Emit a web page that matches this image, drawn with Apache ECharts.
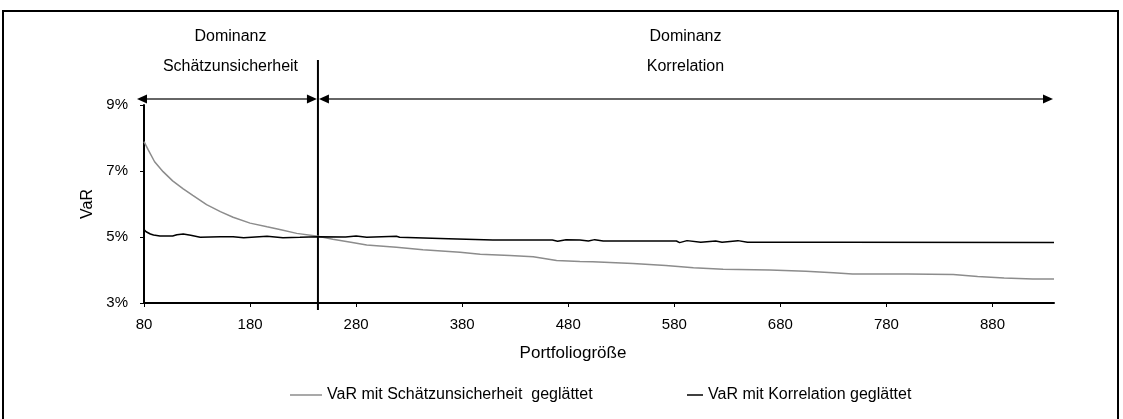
<!DOCTYPE html>
<html>
<head>
<meta charset="utf-8">
<script src="https://cdn.jsdelivr.net/npm/echarts@6/dist/echarts.min.js"></script>
<style>
  html, body { margin: 0; padding: 0; background: #fff; }
  #echart1 { width: 1123px; height: 419px; }
</style>
</head>
<body>
<div id="echart1"></div>
<script>
// Portfoliogröße / VaR in %
var schaetzX = [80, 84, 90, 98, 107, 117, 126, 139, 152, 164, 180, 196, 208, 224, 244, 258, 275, 290, 318, 343, 378, 397, 425, 447, 469, 491, 503, 541, 572, 598, 626, 670, 704, 730, 748, 800, 843, 866, 891, 918, 938]
var schaetzVaR = [7.89, 7.64, 7.28, 6.98, 6.70, 6.46, 6.26, 5.98, 5.77, 5.60, 5.42, 5.31, 5.23, 5.11, 5.02, 4.93, 4.84, 4.76, 4.69, 4.61, 4.54, 4.48, 4.44, 4.40, 4.29, 4.26, 4.25, 4.20, 4.14, 4.07, 4.02, 4.00, 3.96, 3.92, 3.88, 3.88, 3.86, 3.80, 3.76, 3.73, 3.73]
var korrX = [80, 82, 86, 89, 95, 107, 111, 117, 124, 133, 152, 164, 174, 196, 211, 227, 244, 270, 280, 290, 318, 321, 367, 409, 465, 470, 478, 491, 499, 505, 513, 582, 585, 592, 605, 619, 625, 640, 649, 736, 938]
var korrVaR = [5.23, 5.16, 5.09, 5.06, 5.03, 5.03, 5.07, 5.09, 5.05, 4.99, 5.01, 5.01, 4.98, 5.02, 4.98, 4.99, 5.01, 5.00, 5.03, 4.99, 5.02, 4.99, 4.95, 4.91, 4.91, 4.87, 4.92, 4.91, 4.88, 4.92, 4.88, 4.88, 4.83, 4.89, 4.84, 4.88, 4.84, 4.89, 4.84, 4.84, 4.83]
var xTicks = [80, 180, 280, 380, 480, 580, 680, 780, 880]
var yTicks = [3, 5, 7, 9]
var grenze = 244
var nameSchaetz = 'VaR mit Schätzunsicherheit  geglättet'
var nameKorr = 'VaR mit Korrelation geglättet'

var font = 'Liberation Sans, Arial, sans-serif'

function paare(xs, ys) {
  var out = []
  for (var i = 0; i < xs.length; i++) out.push([xs[i], ys[i]])
  return out
}

var myChart = echarts.init(document.getElementById('echart1'))
var option = {
  animation: false,
  textStyle: { fontFamily: font, color: '#000' },
  grid: { left: 144, right: 69, top: 105, bottom: 116 },
  legend: [
    {
      data: [nameSchaetz], left: 285, top: 382, itemWidth: 32, itemHeight: 14, icon: 'path://M0,6.5 L32,6.5 L32,8 L0,8 Z',
      textStyle: { fontFamily: font, fontSize: 16, color: '#000' }
    },
    {
      data: [nameKorr], left: 682, top: 382, itemWidth: 16, itemHeight: 14, icon: 'path://M0,6.5 L16,6.5 L16,8 L0,8 Z',
      textStyle: { fontFamily: font, fontSize: 16, color: '#000' }
    }
  ],
  xAxis: {
    type: 'value', min: 80, max: 938,
    name: 'Portfoliogröße', nameLocation: 'middle', nameGap: 42,
    nameTextStyle: { fontFamily: font, fontSize: 17, color: '#000', padding: [0, 52, 0, 0] },
    axisLine: { onZero: false, lineStyle: { color: '#000', width: 2 } },
    axisTick: { show: true, customValues: xTicks, length: 4, lineStyle: { color: '#000', width: 1 } },
    axisLabel: { customValues: xTicks, margin: 14, fontSize: 15, color: '#000', fontFamily: font },
    splitLine: { show: false }
  },
  yAxis: {
    type: 'value', min: 3, max: 9,
    name: 'VaR', nameLocation: 'middle', nameGap: 40,
    nameTextStyle: { fontFamily: font, fontSize: 16, color: '#000' },
    axisLine: { show: true, onZero: false, lineStyle: { color: '#000', width: 2 } },
    axisTick: { show: true, customValues: yTicks, length: 4, lineStyle: { color: '#000', width: 1 } },
    axisLabel: { customValues: yTicks, margin: 16, fontSize: 15, color: '#000', fontFamily: font, formatter: '{value}%' },
    splitLine: { show: false }
  },
  series: [
    {
      name: nameSchaetz, type: 'line', symbol: 'none',
      data: paare(schaetzX, schaetzVaR),
      lineStyle: { color: '#8c8c8c', width: 1.5 },
      itemStyle: { color: '#8c8c8c' }
    },
    {
      name: nameKorr, type: 'line', symbol: 'none',
      data: paare(korrX, korrVaR),
      lineStyle: { color: '#000', width: 1.5 },
      itemStyle: { color: '#000' }
    }
  ]
}
myChart.setOption(option)

// Pfeile, Trennlinie und Beschriftung oben
function pfeilspitze(tx, ty, dir) {
  return {
    type: 'polygon',
    shape: { points: [[tx, ty], [tx - dir * 10, ty - 4.5], [tx - dir * 10, ty + 4.5]] },
    style: { fill: '#000' }
  }
}

function DrawNotes() {
  var x0 = myChart.convertToPixel({ xAxisIndex: 0 }, 80)
  var x1 = myChart.convertToPixel({ xAxisIndex: 0 }, 938)
  var gx = myChart.convertToPixel({ xAxisIndex: 0 }, grenze)
  var yTop = myChart.convertToPixel({ yAxisIndex: 0 }, 9)
  var yBot = myChart.convertToPixel({ yAxisIndex: 0 }, 3)
  var ay = yTop - 6
  var lx = x0 - 7
  var rx = x1 - 1
  var txt = function (x, y, s) {
    return { type: 'text', x: x, y: y, style: { text: s, fontFamily: font, fontSize: 16, fill: '#000', align: 'center', verticalAlign: 'middle' } }
  }
  var els = [
    { type: 'rect', shape: { x: 3, y: 11, width: 1115, height: 430 }, style: { fill: 'none', stroke: '#000', lineWidth: 2 } },
    { type: 'line', shape: { x1: gx, y1: yTop - 45, x2: gx, y2: yBot + 7 }, style: { stroke: '#000', lineWidth: 2 } },
    { type: 'line', shape: { x1: lx + 4, y1: ay, x2: gx - 5, y2: ay }, style: { stroke: '#333', lineWidth: 1.5 } },
    { type: 'line', shape: { x1: gx + 5, y1: ay, x2: rx - 4, y2: ay }, style: { stroke: '#333', lineWidth: 1.5 } },
    pfeilspitze(lx, ay, -1),
    pfeilspitze(gx - 1, ay, 1),
    pfeilspitze(gx + 1, ay, -1),
    pfeilspitze(rx, ay, 1),
    txt((lx + gx) / 2 + 3, yTop - 68, 'Dominanz'),
    txt((lx + gx) / 2 + 3, yTop - 38, 'Schätzunsicherheit'),
    txt((gx + rx) / 2, yTop - 68, 'Dominanz'),
    txt((gx + rx) / 2, yTop - 38, 'Korrelation')
  ]
  myChart.setOption({ graphic: { elements: els } })
}

DrawNotes()
</script>
</body>
</html>
